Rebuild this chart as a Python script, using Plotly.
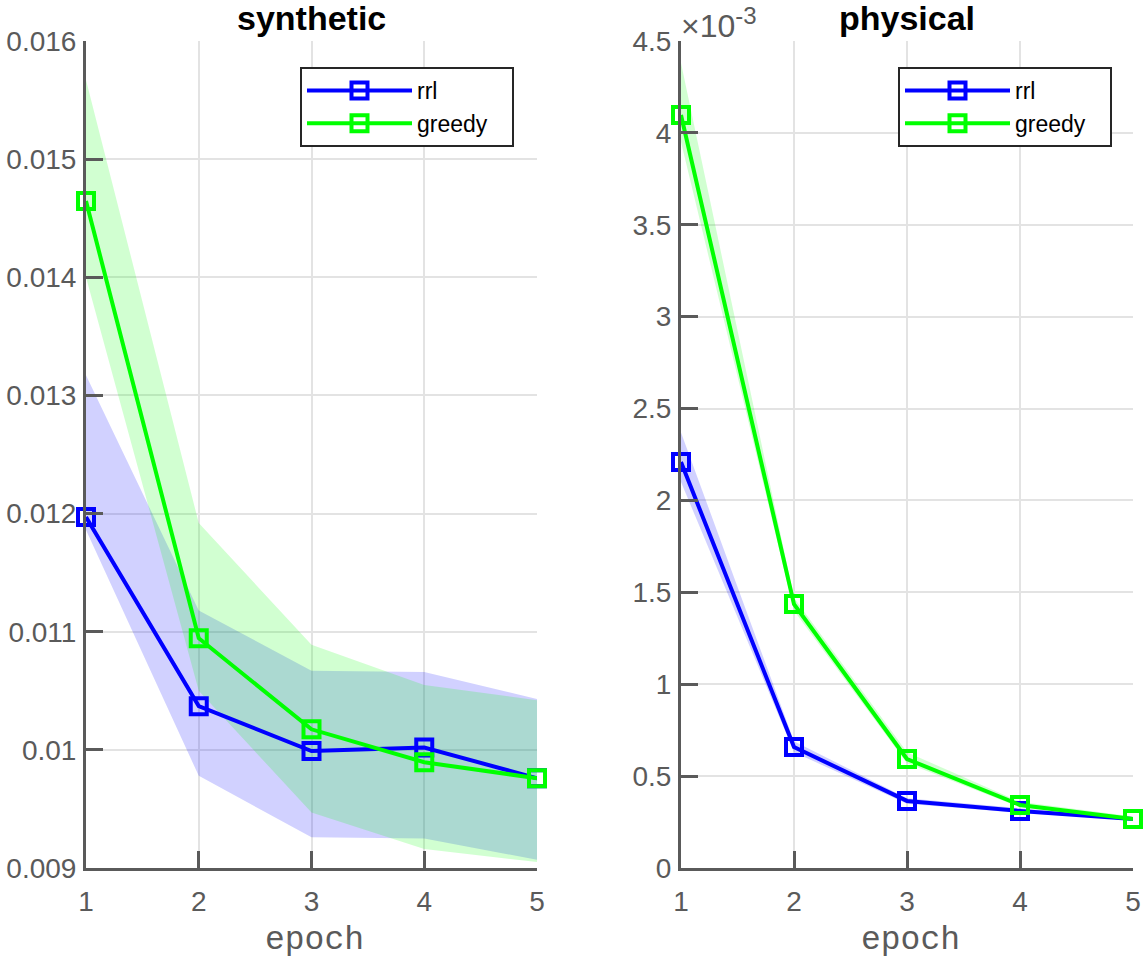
import plotly.graph_objects as go

# ---------------- data ----------------
epochs = [1, 2, 3, 4, 5]

syn_rrl = [0.01197, 0.01037, 0.00999, 0.01002, 0.00976]
syn_rrl_hi = [0.01317, 0.01118, 0.01067, 0.01066, 0.01043]
syn_rrl_lo = [0.01186, 0.00978, 0.00926, 0.00925, 0.00907]

syn_greedy = [0.014645, 0.010945, 0.010174, 0.009895, 0.00976]
syn_greedy_hi = [0.01567, 0.01192, 0.01089, 0.01055, 0.01042]
syn_greedy_lo = [0.01400, 0.01050, 0.00947, 0.00916, 0.00905]

phy_rrl = [2.209e-3, 0.658e-3, 0.365e-3, 0.310e-3, 0.267e-3]
phy_rrl_hi = [2.37e-3, 0.69e-3, 0.38e-3, 0.325e-3, 0.276e-3]
phy_rrl_lo = [2.10e-3, 0.63e-3, 0.35e-3, 0.300e-3, 0.260e-3]

phy_greedy = [4.097e-3, 1.436e-3, 0.593e-3, 0.343e-3, 0.267e-3]
phy_greedy_hi = [4.38e-3, 1.47e-3, 0.63e-3, 0.360e-3, 0.280e-3]
phy_greedy_lo = [3.95e-3, 1.40e-3, 0.57e-3, 0.330e-3, 0.260e-3]

syn_yticks = [0.009, 0.010, 0.011, 0.012, 0.013, 0.014, 0.015, 0.016]
syn_ylabels = ["0.009", "0.01", "0.011", "0.012", "0.013", "0.014", "0.015", "0.016"]
phy_yticks = [0, 0.5e-3, 1e-3, 1.5e-3, 2e-3, 2.5e-3, 3e-3, 3.5e-3, 4e-3, 4.5e-3]
phy_ylabels = ["0", "0.5", "1", "1.5", "2", "2.5", "3", "3.5", "4", "4.5"]
xticks = [1, 2, 3, 4, 5]
series_names = ["rrl", "greedy"]
x_title = "epoch"

BLUE = "#0000ff"
GREEN = "#00ff00"
BLUE_FILL = "rgba(0,0,255,0.18)"
GREEN_FILL = "rgba(0,255,0,0.18)"
AXC = "#5a5a5a"
GRID = "#e3e3e3"
FONT = "Liberation Sans, Arial, sans-serif"
MONO = "Liberation Mono"

fig = go.Figure()


def band(x, lo, hi, color, xa, ya):
    fig.add_trace(go.Scatter(
        x=list(x) + list(x)[::-1], y=list(hi) + list(lo)[::-1],
        fill="toself", fillcolor=color, line=dict(width=0),
        mode="lines", hoverinfo="skip", showlegend=False,
        xaxis=xa, yaxis=ya))


def line(x, y, color, name, xa, ya, legend):
    fig.add_trace(go.Scatter(
        x=x, y=y, name=name + "&nbsp;&nbsp;&nbsp;", mode="lines+markers",
        line=dict(color=color, width=4),
        marker=dict(symbol="square-open", size=16, color=color,
                    line=dict(color=color, width=4)),
        cliponaxis=False, xaxis=xa, yaxis=ya, legend=legend))


band(epochs, syn_rrl_lo, syn_rrl_hi, BLUE_FILL, "x", "y")
band(epochs, syn_greedy_lo, syn_greedy_hi, GREEN_FILL, "x", "y")
band(epochs, phy_rrl_lo, phy_rrl_hi, BLUE_FILL, "x2", "y2")
band(epochs, phy_greedy_lo, phy_greedy_hi, GREEN_FILL, "x2", "y2")
line(epochs, syn_rrl, BLUE, series_names[0], "x", "y", "legend")
line(epochs, syn_greedy, GREEN, series_names[1], "x", "y", "legend")
line(epochs, phy_rrl, BLUE, series_names[0], "x2", "y2", "legend2")
line(epochs, phy_greedy, GREEN, series_names[1], "x2", "y2", "legend2")

W, H = 1146, 962
L, T = 86, 41
R = W - 1133
B = H - 868
pw = W - L - R
ph = H - T - B
left_dom = [0, (537 - 86) / pw]
right_dom = [(681 - 86) / pw, 1]

axis_common = dict(
    showline=True, linecolor=AXC, linewidth=3, mirror=False,
    ticks="inside", ticklen=17, tickwidth=3, tickcolor=AXC,
    showgrid=True, gridcolor=GRID, gridwidth=2, zeroline=False,
    tickfont=dict(family=FONT, size=28, color=AXC),
    automargin=False,
)

xaxis_common = dict(axis_common, range=[1, 5], tickvals=xticks,
                    ticktext=[str(v) for v in xticks],
                    ticklabelstandoff=6)

legend_common = dict(xanchor="left", yanchor="top", y=1 - (67 - 41) / ph,
                     bordercolor="#262626", borderwidth=2, bgcolor="white",
                     font=dict(family=FONT, size=23, color="black"),
                     itemwidth=105)


def xtitle(dom):
    return dict(text=x_title, xref="paper", yref="paper",
                x=(dom[0] + dom[1]) / 2, y=0, xanchor="center", yanchor="bottom",
                xshift=3, yshift=-(B - 1), showarrow=False,
                font=dict(family=MONO, size=33, color=AXC))


fig.update_layout(
    width=W, height=H,
    margin=dict(l=L, r=R, t=T, b=B),
    plot_bgcolor="white", paper_bgcolor="white",
    xaxis=dict(xaxis_common, domain=left_dom, anchor="y"),
    xaxis2=dict(xaxis_common, domain=right_dom, anchor="y2"),
    yaxis=dict(axis_common, range=[0.009, 0.016], tickvals=syn_yticks,
               ticktext=syn_ylabels, anchor="x", ticklabelstandoff=1),
    yaxis2=dict(axis_common, range=[0, 4.5e-3], tickvals=phy_yticks,
                ticktext=phy_ylabels, anchor="x2", ticklabelstandoff=1),
    legend=dict(legend_common, x=(300 - 86) / pw),
    legend2=dict(legend_common, x=(898 - 86) / pw),
    annotations=[
        dict(text="<b>synthetic</b>", xref="paper", yref="paper",
             x=(left_dom[0] + left_dom[1]) / 2, y=1, xanchor="center", yanchor="bottom",
             yshift=2, showarrow=False, font=dict(family=FONT, size=34, color="black")),
        dict(text="<b>physical</b>", xref="paper", yref="paper",
             x=(right_dom[0] + right_dom[1]) / 2, y=1, xanchor="center", yanchor="bottom",
             yshift=2, showarrow=False, font=dict(family=FONT, size=34, color="black")),
        dict(text="×10<sup><span style='font-size:24px'>-3</span></sup>",
             xref="paper", yref="paper",
             x=right_dom[0], y=1, xanchor="left", yanchor="bottom",
             xshift=-2, yshift=-5, showarrow=False,
             font=dict(family=FONT, size=32, color=AXC)),
        xtitle(left_dom),
        xtitle(right_dom),
    ],
)

fig.write_html("out.html", config={"displayModeBar": False},
               post_script="document.body.style.margin='0';document.body.style.overflow='hidden';")
